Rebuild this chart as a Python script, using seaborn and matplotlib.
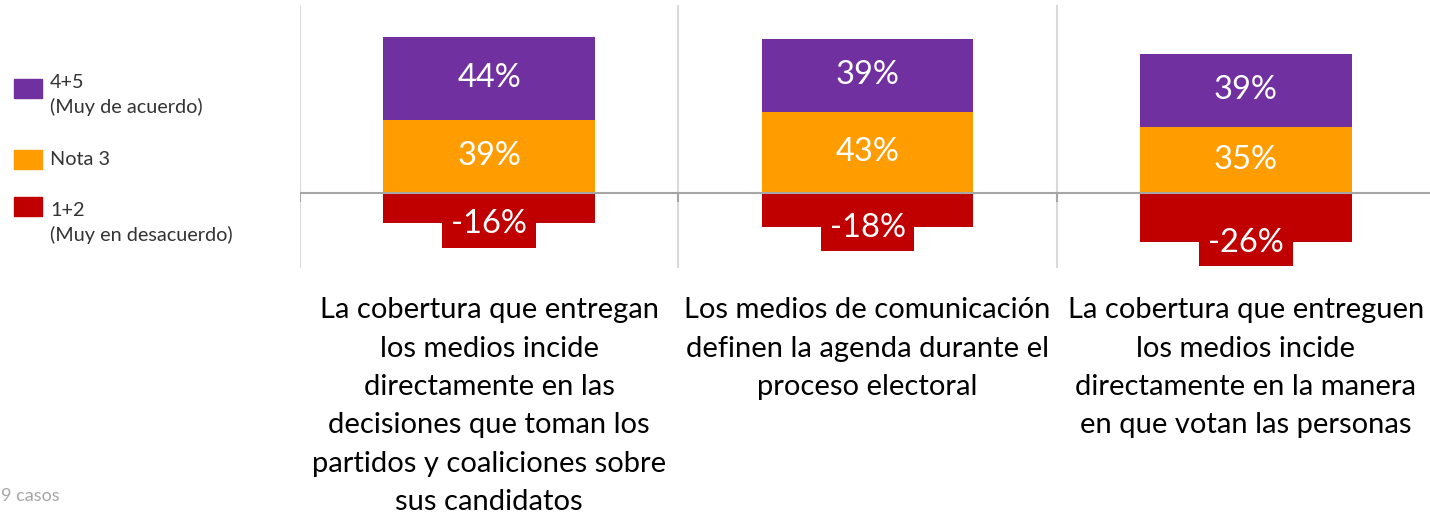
import numpy as np
import pandas as pd
import matplotlib
matplotlib.use("Agg")
import matplotlib.pyplot as plt
from matplotlib.patches import Rectangle
import seaborn as sns

categories = [
    "La cobertura que entregan\nlos medios incide\ndirectamente en las\ndecisiones que toman los\npartidos y coaliciones sobre\nsus candidatos",
    "Los medios de comunicación\ndefinen la agenda durante el\nproceso electoral",
    "La cobertura que entreguen\nlos medios incide\ndirectamente en la manera\nen que votan las personas",
]
acuerdo = [44, 39, 39]        # 4+5
nota3 = [39, 43, 35]          # Nota 3
desacuerdo = [-16, -18, -26]  # 1+2

series_labels = ["4+5\n(Muy de acuerdo)", "Nota 3", "1+2\n(Muy en desacuerdo)"]
colors = ["#7030A0", "#FF9C00", "#C00000"]

sns.set_style("white")
plt.rcParams["font.family"] = ["Lato", "DejaVu Sans"]

df = pd.DataFrame({
    "cat": categories,
    "acuerdo": acuerdo,
    "nota3": nota3,
    "desacuerdo": desacuerdo,
})
df["top"] = df["nota3"] + df["acuerdo"]

fig = plt.figure(figsize=(14.3, 5.17), dpi=100)
ax = fig.add_axes([300 / 1430, 1 - 268 / 517, 1135 / 1430, 263 / 517])

bw = 0.56
sns.barplot(data=df, x="cat", y="top", color=colors[0], width=bw,
            linewidth=0, saturation=1, ax=ax)
sns.barplot(data=df, x="cat", y="nota3", color=colors[1], width=bw,
            linewidth=0, saturation=1, ax=ax)
sns.barplot(data=df, x="cat", y="desacuerdo", color=colors[2], width=bw,
            linewidth=0, saturation=1, ax=ax)

ax.set_ylim(-40, 100)
ax.set_xlim(-0.5, 2.5)
ax.set_yticks([])
ax.set_xlabel("")
ax.set_ylabel("")
sns.despine(ax=ax, left=True, bottom=True)

# category separators, zero line and its small ticks
seps = [-0.5, 0.5, 1.5]
ax.set_xticks(seps, minor=True)
ax.grid(which="minor", axis="x", color="#D9D9D9", linewidth=1.5)
ax.tick_params(which="minor", length=0)
ax.axhline(0, color="#A6A6A6", linewidth=1.5, zorder=3)
ax.vlines(seps, -5, 0, color="#A6A6A6", linewidth=1.5, zorder=3)

ax.set_xticks(range(len(categories)))
ax.set_xticklabels(categories, fontsize=21, color="black", linespacing=1.59)
ax.tick_params(axis="x", which="major", length=0, pad=21)

# value labels
for i in range(len(categories)):
    ax.text(i, nota3[i] + acuerdo[i] / 2, f"{acuerdo[i]}%", ha="center",
            va="center", color="white", fontsize=23.5, zorder=4)
    ax.text(i, nota3[i] / 2, f"{nota3[i]}%", ha="center", va="center",
            color="white", fontsize=23.5, zorder=4)
    ax.text(i, desacuerdo[i] - 0.5, f"{desacuerdo[i]}%", ha="center", va="center",
            color="white", fontsize=23.5, zorder=4,
            bbox=dict(boxstyle="square,pad=0.27", fc=colors[2], ec="none"))

# legend
leg_sq = [79, 150, 197]
leg_base = [88, 165, 216]
for y, yb, lab, c in zip(leg_sq, leg_base, series_labels, colors):
    fig.add_artist(Rectangle((14 / 1430, 1 - (y + 19) / 517), 28 / 1430, 19 / 517,
                             transform=fig.transFigure, color=c))
    for k, line in enumerate(lab.split("\n")):
        fig.text(50 / 1430, 1 - (yb + 25 * k) / 517, line, ha="left",
                 va="baseline", fontsize=14.3, color="#333333")

fig.text(1 / 1430, 1 - 496 / 517, "9 casos", ha="left", va="center",
         fontsize=13, color="#A6A6A6")

fig.savefig("out.png", dpi=100)
